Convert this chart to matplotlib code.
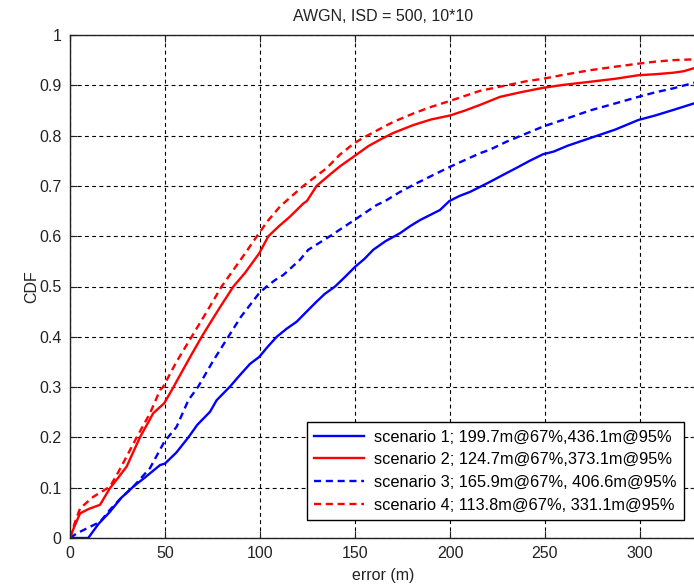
import matplotlib.pyplot as plt
import numpy as np

plt.rcParams['font.family'] = ['Liberation Sans', 'DejaVu Sans']

# error (m) / CDF samples for each scenario
err_s1 = [0, 9.6, 15, 21, 27, 33.3, 40, 47.4, 50, 56, 62.3, 67, 73.7, 77.2, 84.2, 89, 94.7, 99.6,
          104, 108.8, 114, 119.3, 124, 129.8, 134, 139.5, 145, 150, 155, 159.6, 166, 173.7, 179,
          184.2, 194.7, 199.7, 205, 210.5, 215.8, 221, 228, 235.1, 242, 249, 254.4, 262, 273.7,
          287, 299.1, 308, 317.5, 328.4, 335]
cdf_s1 = [0, 0, 0.028, 0.052, 0.08, 0.102, 0.122, 0.145, 0.148, 0.17, 0.2, 0.225, 0.251, 0.274,
          0.301, 0.322, 0.346, 0.36, 0.38, 0.40, 0.416, 0.43, 0.448, 0.47, 0.485, 0.50, 0.52,
          0.539, 0.555, 0.573, 0.59, 0.606, 0.62, 0.632, 0.652, 0.67, 0.68, 0.688, 0.698, 0.708,
          0.722, 0.736, 0.75, 0.763, 0.768, 0.78, 0.795, 0.812, 0.831, 0.84, 0.851, 0.864, 0.87]

err_s2 = [0, 2, 5.3, 10, 15.8, 21, 25, 29.8, 36.8, 43.8, 49.6, 54.6, 60, 64, 69.3, 75, 80, 86,
          92.1, 99.6, 104.4, 110, 115.8, 122.8, 124.7, 129.8, 136, 142.1, 149.6, 157, 163.2, 170,
          180.7, 190, 200, 208, 215.8, 226.3, 237, 249, 260, 273.7, 287, 299.1, 308, 317.5, 323,
          328.4, 335]
cdf_s2 = [0, 0.02, 0.049, 0.058, 0.066, 0.099, 0.118, 0.142, 0.2, 0.248, 0.268, 0.301, 0.338,
          0.365, 0.40, 0.435, 0.465, 0.5, 0.527, 0.566, 0.60, 0.62, 0.639, 0.665, 0.67, 0.70, 0.72,
          0.739, 0.759, 0.779, 0.792, 0.805, 0.821, 0.832, 0.84, 0.85, 0.861, 0.877, 0.886, 0.895,
          0.901, 0.907, 0.913, 0.92, 0.922, 0.925, 0.928, 0.934, 0.94]

err_s3 = [0, 3.5, 8.8, 15.8, 21, 27, 33.3, 42.1, 49.6, 56.1, 62.3, 67.5, 75, 83.3, 90, 99.6,
          103.5, 108, 112.3, 121, 125.4, 136.8, 149.6, 161.4, 165.9, 173.7, 180.7, 186, 200,
          215.8, 221, 229.8, 249, 260, 273.7, 287, 299.1, 308, 317.5, 328.4, 335]
cdf_s3 = [0, 0.009, 0.019, 0.032, 0.056, 0.08, 0.102, 0.139, 0.191, 0.221, 0.274, 0.301, 0.35,
          0.40, 0.44, 0.487, 0.50, 0.513, 0.523, 0.553, 0.573, 0.60, 0.632, 0.662, 0.67, 0.688,
          0.702, 0.712, 0.738, 0.765, 0.772, 0.788, 0.818, 0.832, 0.85, 0.864, 0.877, 0.886,
          0.894, 0.905, 0.91]

err_s4 = [0, 2.5, 5.3, 12.3, 21, 25, 29.8, 35.1, 42.1, 47.4, 49.1, 56, 64, 72, 79.8, 86, 92,
          99.1, 104, 110.5, 113.8, 122.8, 135, 142, 149.6, 155, 161.4, 170, 180.7, 190, 200,
          215.8, 229.8, 240, 249, 260, 273.7, 287, 299.1, 308, 317.5, 331.1, 335]
cdf_s4 = [0, 0.03, 0.059, 0.082, 0.102, 0.128, 0.162, 0.2, 0.248, 0.294, 0.301, 0.35, 0.40,
          0.45, 0.50, 0.533, 0.565, 0.604, 0.63, 0.659, 0.67, 0.70, 0.735, 0.762, 0.785, 0.797,
          0.81, 0.827, 0.844, 0.857, 0.869, 0.889, 0.90, 0.908, 0.913, 0.921, 0.930, 0.937,
          0.943, 0.947, 0.950, 0.952, 0.953]

labels = ['scenario 1; 199.7m@67%,436.1m@95%',
          'scenario 2; 124.7m@67%,373.1m@95%',
          'scenario 3; 165.9m@67%, 406.6m@95%',
          'scenario 4; 113.8m@67%, 331.1m@95%']

xticks = [0, 50, 100, 150, 200, 250, 300]
yticks = np.round(np.arange(0, 1.01, 0.1), 1)
ytick_labels = ['0', '0.1', '0.2', '0.3', '0.4', '0.5', '0.6', '0.7', '0.8', '0.9', '1']

fig = plt.figure(figsize=(6.94, 5.88), dpi=100)
ax = fig.add_axes([70 / 694, 50 / 588, 627 / 694, 503 / 588])

lw = 1.7
dash = (3, 2)
ax.plot(err_s1, cdf_s1, color='#0000ff', lw=lw, label=labels[0])
ax.plot(err_s2, cdf_s2, color='#ff0000', lw=lw, label=labels[1])
ax.plot(err_s3, cdf_s3, color='#0000ff', lw=lw, dashes=dash, label=labels[2])
ax.plot(err_s4, cdf_s4, color='#ff0000', lw=lw, dashes=dash, label=labels[3])

ax.set_xlim(0, 330)
ax.set_ylim(0, 1)
ax.set_xticks(xticks)
ax.set_yticks(yticks)
ax.set_yticklabels(ytick_labels)
ax.grid(True, color='black', lw=0.8, linestyle=(0, (3.5, 3)))
ax.tick_params(direction='in', length=5, width=0.8, top=True, right=True,
               labelsize=11.5, pad=6, colors='#222222')
for s in ax.spines.values():
    s.set_linewidth(1.0)
    s.set_color('#222222')

ax.set_title('AWGN, ISD = 500, 10*10', fontsize=11.5, pad=10, color='#222222')
ax.set_xlabel('error (m)', fontsize=11.5, labelpad=5, color='#222222')
ax.set_ylabel('CDF', fontsize=11.5, labelpad=0, color='#222222')

leg = ax.legend(loc='upper left', bbox_to_anchor=(307 / 694, 1 - 422 / 588),
                bbox_transform=fig.transFigure, borderaxespad=0, fontsize=11.8,
                handlelength=3.05, handletextpad=0.6, borderpad=0.45, labelspacing=0.47,
                fancybox=False, framealpha=1, edgecolor='black')
leg.get_frame().set_linewidth(1.0)

fig.savefig('out.png', dpi=100)
